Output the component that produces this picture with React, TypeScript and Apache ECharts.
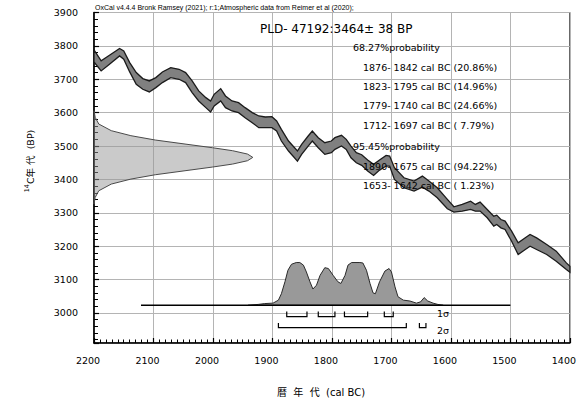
import React, { useEffect, useRef } from 'react';
import * as echarts from 'echarts';

// Calibration curve (cal BC year, upper and lower 14C BP of the band)
const curveYears = [2200, 2188, 2174, 2157, 2150, 2140, 2129, 2118, 2107, 2096, 2085, 2071, 2057, 2046, 2035, 2024, 2012, 2004, 1998, 1987, 1979, 1968, 1957, 1946, 1934, 1923, 1912, 1901, 1893, 1885, 1873, 1858, 1851, 1840, 1833, 1823, 1812, 1801, 1795, 1784, 1776, 1768, 1759, 1750, 1740, 1730, 1720, 1709, 1703, 1695, 1679, 1662, 1648, 1637, 1623, 1606, 1595, 1581, 1567, 1559, 1551, 1539, 1528, 1523, 1516, 1509, 1498, 1487, 1475, 1467, 1456, 1439, 1423, 1406, 1400];
const curveHigh = [3788, 3755, 3772, 3792, 3785, 3750, 3720, 3702, 3695, 3705, 3722, 3735, 3730, 3720, 3695, 3665, 3645, 3635, 3655, 3672, 3650, 3635, 3630, 3615, 3600, 3590, 3587, 3588, 3575, 3550, 3515, 3485, 3505, 3530, 3545, 3525, 3510, 3515, 3525, 3532, 3520, 3500, 3480, 3474, 3458, 3445, 3458, 3472, 3470, 3435, 3405, 3395, 3410, 3395, 3375, 3340, 3318, 3325, 3335, 3325, 3332, 3310, 3290, 3293, 3280, 3275, 3245, 3210, 3225, 3235, 3225, 3205, 3185, 3150, 3140];
const curveLow = [3752, 3725, 3745, 3770, 3760, 3722, 3685, 3670, 3662, 3675, 3690, 3705, 3700, 3690, 3660, 3635, 3615, 3602, 3620, 3635, 3615, 3605, 3600, 3585, 3570, 3555, 3555, 3555, 3545, 3515, 3485, 3455, 3475, 3500, 3515, 3495, 3475, 3480, 3490, 3500, 3490, 3465, 3450, 3442, 3425, 3412, 3428, 3440, 3440, 3400, 3375, 3365, 3377, 3365, 3345, 3312, 3302, 3305, 3310, 3305, 3305, 3285, 3260, 3265, 3255, 3250, 3215, 3175, 3190, 3200, 3190, 3175, 3155, 3130, 3122];

// Calibrated probability distribution (cal BC year, relative probability)
const probYears = [1941, 1924, 1913, 1899, 1890, 1885, 1879, 1874, 1868, 1860, 1854, 1848, 1843, 1837, 1832, 1826, 1820, 1812, 1806, 1798, 1790, 1785, 1778, 1773, 1767, 1753, 1748, 1742, 1736, 1731, 1727, 1720, 1711, 1704, 1700, 1694, 1689, 1680, 1669, 1658, 1651, 1645, 1639, 1630, 1622, 1613];
const probValues = [0, 0.02, 0.04, 0.05, 0.12, 0.27, 0.55, 0.82, 0.96, 1.0, 1.0, 0.94, 0.78, 0.55, 0.38, 0.47, 0.7, 0.88, 0.86, 0.7, 0.55, 0.51, 0.7, 0.94, 1.0, 1.0, 0.99, 0.82, 0.51, 0.29, 0.27, 0.55, 0.8, 0.86, 0.78, 0.43, 0.2, 0.12, 0.1, 0.05, 0.08, 0.18, 0.1, 0.05, 0.02, 0];

// Radiocarbon determination (14C BP, extent in years from the left axis)
const gaussBP = [3606, 3586, 3566, 3546, 3531, 3518, 3506, 3495, 3486, 3476, 3466, 3456, 3446, 3437, 3426, 3414, 3401, 3386, 3366, 3346, 3326];
const gaussWidth = [0, 2, 8, 29, 62, 103, 153, 199, 233, 258, 267, 258, 233, 199, 153, 103, 62, 29, 8, 2, 0];

// Ranges and labels
const sigma1Ranges = [[1876, 1842], [1823, 1795], [1779, 1740], [1712, 1697]];
const sigma2Ranges = [[1890, 1675], [1653, 1642]];
const sigma1Labels = ['1876- 1842 cal BC (20.86%)', '1823- 1795 cal BC (14.96%)', '1779- 1740 cal BC (24.66%)', '1712- 1697 cal BC ( 7.79%)'];
const sigma2Labels = ['1890- 1675 cal BC (94.22%)', '1653- 1642 cal BC ( 1.23%)'];
const baselineRange = [2121, 1500];

const FONT = "'DejaVu Sans', Verdana, sans-serif";
const SMALL = "'Liberation Sans', Arial, sans-serif";
const CJK = "'DejaVu Sans', 'Noto Sans CJK JP', sans-serif";

const PROB_BASE = 3023;
const PROB_HEIGHT = 128;

function textEl(text: string, x: number, y: number, fontSize: number, align = 'left', family = FONT) {
  return {
    type: 'text',
    x,
    y,
    silent: true,
    z: 100,
    style: {
      text,
      fontSize,
      fontFamily: family,
      fill: '#000',
      align,
      verticalAlign: 'middle',
      textAlign: align,
      textVerticalAlign: 'middle',
    },
  };
}

function custom(render: (api: any) => any, z: number) {
  return {
    type: 'custom',
    silent: true,
    z,
    clip: false,
    data: [[1800, 3400]],
    renderItem: (_params: any, api: any) => render(api),
  };
}

export default function App() {
  const ref = useRef<HTMLDivElement>(null);
  useEffect(() => {
    if (!ref.current) return;
    const chart = echarts.init(ref.current, null, { renderer: 'svg' });

    const gaussSeries = custom((api) => {
      const pts = gaussBP.map((bp, i) => api.coord([2200 - gaussWidth[i], bp]));
      return {
        type: 'polygon',
        shape: { points: pts },
        style: { fill: 'rgba(150,150,150,0.5)', stroke: '#4a4a4a', lineWidth: 1 },
      };
    }, 2);

    const bandSeries = custom((api) => {
      const up = curveYears.map((yr, i) => api.coord([yr, curveHigh[i]]));
      const lo = curveYears.map((yr, i) => api.coord([yr, curveLow[i]])).reverse();
      return {
        type: 'polygon',
        shape: { points: up.concat(lo) },
        style: { fill: '#808080', stroke: '#1a1a1a', lineWidth: 1.3 },
      };
    }, 3);

    const probSeries = custom((api) => {
      const pts = probYears.map((yr, i) => api.coord([yr, PROB_BASE + probValues[i] * PROB_HEIGHT]));
      return {
        type: 'polygon',
        shape: { points: pts },
        style: { fill: '#999999', stroke: '#2a2a2a', lineWidth: 1 },
      };
    }, 4);

    const baseSeries = custom((api) => {
      const a = api.coord([baselineRange[0], PROB_BASE]);
      const b = api.coord([baselineRange[1], PROB_BASE]);
      return {
        type: 'line',
        shape: { x1: a[0], y1: a[1], x2: b[0], y2: b[1] },
        style: { stroke: '#000', lineWidth: 1.6 },
      };
    }, 5);

    const bracketSeries = custom((api) => {
      const children: any[] = [];
      const make = (ranges: number[][], top: number, bottom: number) => {
        ranges.forEach(([s, e]) => {
          const p1 = api.coord([s, top]);
          const p2 = api.coord([s, bottom]);
          const p3 = api.coord([e, bottom]);
          const p4 = api.coord([e, top]);
          children.push({
            type: 'polyline',
            shape: { points: [p1, p2, p3, p4] },
            style: { stroke: '#000', lineWidth: 1.2, fill: null },
          });
        });
      };
      make(sigma1Ranges, 3004, 2989);
      make(sigma2Ranges, 2970, 2956);
      return { type: 'group', children };
    }, 6);

    const graphics: any[] = [
      textEl('OxCal v4.4.4 Bronk Ramsey (2021); r:1;Atmospheric data from Reimer et al (2020);', 95, 7, 7, 'left', SMALL),
      textEl('PLD- 47192:3464± 38 BP', 260, 28.5, 12),
      textEl('68.27%probability', 353, 47.5, 9.5),
      ...sigma1Labels.map((t, i) => textEl(t, 363, 67 + i * 19.4, 9.5)),
      textEl('95.45%probability', 353, 146, 9.5),
      ...sigma2Labels.map((t, i) => textEl(t, 363, 166 + i * 19.4, 9.5)),
      textEl('1σ', 437, 313, 9.5),
      textEl('2σ', 437, 330, 9.5),
      textEl('暦  年  代  (cal BC)', 321, 392, 10, 'center', CJK),
      {
        type: 'text',
        x: 30,
        y: 161,
        rotation: Math.PI / 2,
        silent: true,
        z: 100,
        style: {
          text: '{sup|14}{n|C年 代  (BP)}',
          fontFamily: CJK,
          fontSize: 9.5,
          fill: '#000',
          align: 'center',
          verticalAlign: 'middle',
          textAlign: 'center',
          textVerticalAlign: 'middle',
          rich: {
            sup: { fontSize: 6.5, fontFamily: FONT, verticalAlign: 'top', lineHeight: 8, fill: '#000' },
            n: { fontSize: 9.5, fontFamily: CJK, lineHeight: 14, fill: '#000' },
          },
        },
      },
    ];

    chart.setOption({
      animation: false,
      backgroundColor: '#fff',
      grid: { left: 94, right: 6, top: 12.5, bottom: 61, show: true, borderColor: '#000', borderWidth: 1, backgroundColor: 'transparent' },
      xAxis: {
        type: 'value',
        inverse: true,
        min: 1400,
        max: 2200,
        interval: 100,
        axisLine: { show: true, onZero: false, lineStyle: { color: '#000', width: 1.6 } },
        axisTick: { show: true, inside: true, length: 5, lineStyle: { color: '#000', width: 1.2 } },
        minorTick: { show: true, splitNumber: 10, length: 3.5, lineStyle: { color: '#000', width: 1 } },
        axisLabel: { margin: 12, fontSize: 9.5, color: '#000', fontFamily: FONT, padding: [0, 12, 0, 0], formatter: (v: number) => String(v) },
        splitLine: { show: true, lineStyle: { color: '#b4b4b4', width: 1 } },
      },
      yAxis: {
        type: 'value',
        min: 2910,
        max: 3900,
        splitNumber: 10,
        minInterval: 100,
        maxInterval: 100,
        axisLine: { show: true, onZero: false, lineStyle: { color: '#000', width: 1.6 } },
        axisTick: { show: true, inside: true, length: 5, lineStyle: { color: '#000', width: 1.2 } },
        minorTick: { show: true, splitNumber: 5, length: 4, lineStyle: { color: '#000', width: 1 } },
        axisLabel: { margin: 16, fontSize: 9.5, color: '#000', fontFamily: FONT, showMinLabel: false, padding: [4, 0, 0, 0], formatter: (v: number) => String(v) },
        splitLine: { show: true, lineStyle: { color: '#b4b4b4', width: 1 } },
      },
      series: [gaussSeries, bandSeries, probSeries, baseSeries, bracketSeries],
      graphic: graphics,
    });

    return () => chart.dispose();
  }, []);

  return <div ref={ref} style={{ position: 'fixed', left: 0, top: 0, width: 579, height: 404, background: '#fff' }} />;
}
